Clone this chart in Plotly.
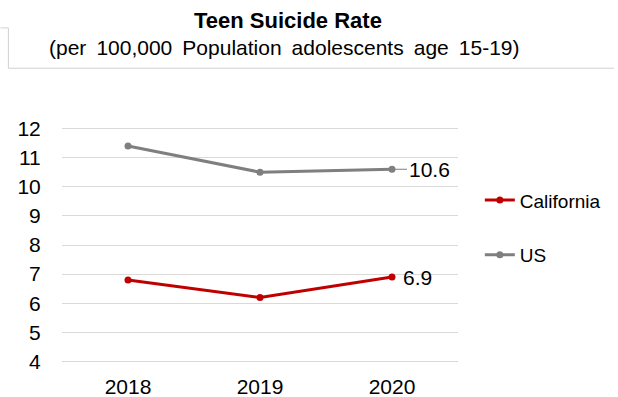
import plotly.graph_objects as go

years = ["2018", "2019", "2020"]
california = [6.8, 6.2, 6.9]
us = [11.4, 10.5, 10.6]
y_ticks = [4, 5, 6, 7, 8, 9, 10, 11, 12]

FONT = "Liberation Sans, Arial, sans-serif"
RED = "#C00000"
GRAY = "#7F7F7F"

W, H = 618, 397
ML, MR, MT, MB = 62, 157, 126.5, 33.5
PW, PH = W - ML - MR, H - MT - MB


def px_x(px):
    return (px - ML) / PW


def px_y(py):
    return (H - MB - py) / PH


fig = go.Figure()
fig.add_trace(go.Scatter(
    x=years, y=california, name="California", mode="lines+markers",
    line=dict(color=RED, width=3), marker=dict(size=7, color=RED),
    legendgroup="ca",
))
fig.add_trace(go.Scatter(
    x=years, y=us, name="US", mode="lines+markers",
    line=dict(color=GRAY, width=3), marker=dict(size=7, color=GRAY),
    legendgroup="us",
))

# end-of-line value labels (category axes take the index position)
last = len(years) - 1
fig.add_annotation(
    xref="x", yref="y", x=last, y=us[-1], text=f"{us[-1]:g}", showarrow=True,
    arrowhead=0, arrowwidth=1, arrowcolor=GRAY, ax=37, ay=0,
    font=dict(family=FONT, size=21, color="#000000"),
)
fig.add_annotation(
    xref="x", yref="y", x=last, y=california[-1], text=f"{california[-1]:g}",
    showarrow=False, xanchor="left", xshift=9,
    font=dict(family=FONT, size=21, color="#000000"),
)

# title block
sp = " \u2009"
subtitle = sp.join("(per 100,000 Population adolescents age 15-19)".split(" "))
fig.add_annotation(
    xref="paper", yref="paper", x=px_x(289.5), y=px_y(19.5),
    text="<b>Teen Suicide Rate</b>", showarrow=False,
    xanchor="center", yanchor="middle",
    font=dict(family=FONT, size=22, color="#000000"),
)
fig.add_annotation(
    xref="paper", yref="paper", x=px_x(286.5), y=px_y(47),
    text=subtitle, showarrow=False,
    xanchor="center", yanchor="middle",
    font=dict(family=FONT, size=21, color="#000000"),
)

# thin frame under the title block
fig.add_shape(
    type="path", xref="paper", yref="paper",
    path=(f"M {px_x(0)} {px_y(27)} L {px_x(8)} {px_y(27)} "
          f"L {px_x(8)} {px_y(67.5)} L {px_x(W)} {px_y(67.5)}"),
    line=dict(color="#D0D0D0", width=1),
)

fig.update_xaxes(
    type="category", range=[-0.5, 2.5], showgrid=False, zeroline=False,
    showline=False, ticks="outside", ticklen=5, tickcolor="rgba(0,0,0,0)",
    automargin=False,
    tickfont=dict(family=FONT, size=21, color="#000000"),
)
fig.update_yaxes(
    range=[3.95, 12.05], tickvals=y_ticks, showgrid=True, gridcolor="#D9D9D9",
    gridwidth=1, zeroline=False, showline=False, ticks="outside", ticklen=16,
    tickcolor="rgba(0,0,0,0)", automargin=False,
    tickfont=dict(family=FONT, size=21, color="#000000"),
)

fig.update_layout(
    width=W, height=H,
    margin=dict(l=ML, r=MR, t=MT, b=MB),
    paper_bgcolor="#FFFFFF", plot_bgcolor="#FFFFFF",
    showlegend=True,
    legend=dict(
        x=px_x(483), y=px_y(181), xanchor="left", yanchor="top",
        font=dict(family=FONT, size=19, color="#000000"),
        tracegroupgap=27, traceorder="grouped", itemwidth=30,
        bgcolor="rgba(0,0,0,0)",
    ),
)

fig.write_html("out.html")
